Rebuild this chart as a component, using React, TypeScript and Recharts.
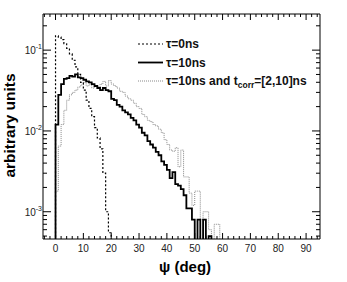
import React from 'react';
import { LineChart, Line, XAxis, YAxis, Legend } from 'recharts';

// Histogram bin contents, 1-degree bins starting at 0 deg
const tau0Values = [
  0.15, 0.145, 0.135, 0.12, 0.105, 0.09, 0.075, 0.062, 0.05, 0.04,
  0.032, 0.024, 0.019, 0.015, 0.011, 0.0082, 0.006, 0.003, 0.001, 0.00055,
];
const tau10Values = [
  0.012, 0.028, 0.038, 0.044, 0.045, 0.048, 0.047, 0.05, 0.046, 0.045,
  0.043, 0.041, 0.04, 0.038, 0.036, 0.034, 0.032, 0.034, 0.032, 0.031,
  0.025, 0.024, 0.021, 0.02, 0.018, 0.017, 0.016, 0.0145, 0.0135, 0.012,
  0.011, 0.0095, 0.0088, 0.0075, 0.0068, 0.0062, 0.0055, 0.005, 0.0042, 0.0038,
  0.0033, 0.0026, 0.0031, 0.0022, 0.0021, 0.0019, 0.0016, 0.0011, 0.0011, 0.0008,
  0, 0.0008, 0, 0.0008, 0, 0.0005,
];
const tau10CorrValues = [
  0.0018, 0.0065, 0.012, 0.018, 0.024, 0.028, 0.03, 0.032, 0.035, 0.037,
  0.04, 0.036, 0.038, 0.034, 0.036, 0.035, 0.038, 0.041, 0.036, 0.042,
  0.038, 0.036, 0.034, 0.031, 0.03, 0.027, 0.025, 0.024, 0.022, 0.02,
  0.019, 0.016, 0.015, 0.0135, 0.013, 0.012, 0.0115, 0.0105, 0.0095, 0.0078,
  0.0068, 0.0058, 0.0056, 0.0062, 0.0036, 0.0058, 0.0027, 0.0027, 0.0017, 0.0012,
  0.0018, 0.0018, 0.0008, 0.001, 0.001, 0.0006, 0, 0.0007, 0.0007,
];

const xMajorTicks = [0, 10, 20, 30, 40, 50, 60, 70, 80, 90];
const xAllTicks = [-4, -2, 0, 2, 4, 6, 8, 10, 12, 14, 16, 18, 20, 22, 24, 26, 28, 30, 32, 34, 36, 38, 40, 42, 44, 46, 48, 50, 52, 54, 56, 58, 60, 62, 64, 66, 68, 70, 72, 74, 76, 78, 80, 82, 84, 86, 88, 90, 92, 94];
const yMajorTicks = [0.001, 0.01, 0.1];
const yMajorLabels = ['-3', '-2', '-1'];
const yAllTicks = [
  0.0005, 0.0006, 0.0007, 0.0008, 0.0009, 0.001,
  0.002, 0.003, 0.004, 0.005, 0.006, 0.007, 0.008, 0.009, 0.01,
  0.02, 0.03, 0.04, 0.05, 0.06, 0.07, 0.08, 0.09, 0.1, 0.2,
];

const FLOOR = 1e-5;
const xDomain = [-4.5, 95];
const yDomain = [4.6e-4, 0.28];

function toSteps(values: number[]) {
  const pts: { x: number; y: number }[] = [{ x: 0, y: FLOOR }];
  values.forEach((v, i) => pts.push({ x: i, y: v > 0 ? v : FLOOR }));
  pts.push({ x: values.length, y: FLOOR });
  return pts;
}

const FONT = '"Liberation Sans", Arial, Helvetica, sans-serif';
const isMajorY = (v: number) => yMajorTicks.some((m) => Math.abs(m - v) / m < 1e-6);

const LeftTick = (props: any) => {
  const { x, y, payload } = props;
  const v = payload.value;
  const major = isMajorY(v);
  const idx = yMajorTicks.findIndex((m) => Math.abs(m - v) / m < 1e-6);
  return (
    <g>
      <line x1={x} x2={x + (major ? 8 : 4)} y1={y} y2={y} stroke="#000" strokeWidth={1} />
      {major && (
        <text x={x - 1} y={y + 4} textAnchor="end" fontFamily={FONT} fontSize={10} fill="#222">
          <tspan>10</tspan>
          <tspan dy={-5} fontSize={7}>{yMajorLabels[idx]}</tspan>
        </text>
      )}
    </g>
  );
};

const RightTick = (props: any) => {
  const { x, y, payload } = props;
  const major = isMajorY(payload.value);
  return <line x1={x} x2={x - (major ? 8 : 4)} y1={y} y2={y} stroke="#000" strokeWidth={1} />;
};

const BottomTick = (props: any) => {
  const { x, y, payload } = props;
  const major = xMajorTicks.includes(payload.value);
  return (
    <g>
      <line x1={x} x2={x} y1={y} y2={y - (major ? 6 : 3)} stroke="#000" strokeWidth={1} />
      {major && (
        <text x={x} y={y + 13} textAnchor="middle" fontFamily={FONT} fontSize={10} fill="#222">
          {payload.value}
        </text>
      )}
    </g>
  );
};

const TopTick = (props: any) => {
  const { x, y, payload } = props;
  const major = xMajorTicks.includes(payload.value);
  return <line x1={x} x2={x} y1={y} y2={y + (major ? 6 : 3)} stroke="#000" strokeWidth={1} />;
};

const legendItems = [
  { label: 'τ=0ns', dash: '2 2', color: '#000', width: 1.2, sub: false },
  { label: 'τ=10ns', dash: undefined, color: '#000', width: 1.8, sub: false },
  { label: 'τ=10ns and t', dash: '1 1', color: '#888', width: 1, sub: true },
];

const LegendContent = () => (
  <svg width={347} height={282} style={{ display: 'block' }}>
    {legendItems.map((it, i) => {
      const cy = 44 + i * 18.5;
      return (
        <g key={i}>
          <line x1={138} x2={163} y1={cy} y2={cy} stroke={it.color} strokeWidth={it.width} strokeDasharray={it.dash} />
          <text x={166} y={cy + 4} fontFamily={FONT} fontSize={12} fontWeight="bold" fill="#111">
            <tspan>{it.label}</tspan>
            {it.sub && (
              <>
                <tspan dy={3} fontSize={8.5}>corr</tspan>
                <tspan dy={-3}>=[2,10]ns</tspan>
              </>
            )}
          </text>
        </g>
      );
    })}
  </svg>
);

export default function App() {
  return (
    <div style={{ position: 'absolute', left: 0, top: 0, background: '#fff' }}>
      <LineChart width={347} height={282} margin={{ top: 4, right: 17, bottom: 13, left: 3 }}>
        <XAxis
          xAxisId="b"
          type="number"
          dataKey="x"
          domain={xDomain}
          allowDataOverflow
          ticks={xAllTicks}
          interval={0}
          tick={<BottomTick />}
          tickLine={false}
          tickSize={0}
          tickMargin={0}
          axisLine={{ stroke: '#000', strokeWidth: 1 }}
          height={30}
          label={(p: any) => {
            const vb = p.viewBox;
            return (
              <text x={185} y={vb.y + 33} textAnchor="middle" fontFamily={FONT} fontSize={15} fontWeight="bold" fill="#000">
                ψ (deg)
              </text>
            );
          }}
        />
        <XAxis
          xAxisId="t"
          orientation="top"
          type="number"
          dataKey="x"
          domain={xDomain}
          allowDataOverflow
          ticks={xAllTicks}
          interval={0}
          tick={<TopTick />}
          tickLine={false}
          tickSize={0}
          tickMargin={0}
          axisLine={{ stroke: '#000', strokeWidth: 1 }}
          height={10}
        />
        <YAxis
          yAxisId="l"
          type="number"
          scale="log"
          domain={yDomain}
          allowDataOverflow
          ticks={yAllTicks}
          interval={0}
          tick={<LeftTick />}
          tickLine={false}
          tickSize={0}
          tickMargin={0}
          axisLine={{ stroke: '#000', strokeWidth: 1 }}
          width={40}
          label={(p: any) => {
            const vb = p.viewBox;
            const cx = vb.x + 12;
            const cy = vb.y + vb.height / 2 - 1;
            return (
              <text x={cx} y={cy} transform={`rotate(-90 ${cx} ${cy})`} textAnchor="middle" fontFamily={FONT} fontSize={15.5} fontWeight="bold" fill="#000">
                arbitrary units
              </text>
            );
          }}
        />
        <YAxis
          yAxisId="r"
          orientation="right"
          type="number"
          scale="log"
          domain={yDomain}
          allowDataOverflow
          ticks={yAllTicks}
          interval={0}
          tick={<RightTick />}
          tickLine={false}
          tickSize={0}
          tickMargin={0}
          axisLine={{ stroke: '#000', strokeWidth: 1 }}
          width={10}
        />
        <Line
          xAxisId="b"
          yAxisId="l"
          data={toSteps(tau10CorrValues)}
          dataKey="y"
          type="stepAfter"
          stroke="#888"
          strokeWidth={1}
          strokeDasharray="1 1"
          dot={false}
          activeDot={false}
          isAnimationActive={false}
        />
        <Line
          xAxisId="b"
          yAxisId="l"
          data={toSteps(tau0Values)}
          dataKey="y"
          type="stepAfter"
          stroke="#000"
          strokeWidth={1.2}
          strokeDasharray="2 2"
          dot={false}
          activeDot={false}
          isAnimationActive={false}
        />
        <Line
          xAxisId="b"
          yAxisId="l"
          data={toSteps(tau10Values)}
          dataKey="y"
          type="stepAfter"
          stroke="#000"
          strokeWidth={1.8}
          dot={false}
          activeDot={false}
          isAnimationActive={false}
        />
        <Legend
          layout="vertical"
          align="center"
          verticalAlign="middle"
          content={<LegendContent />}
          wrapperStyle={{ position: 'absolute', left: 0, top: 0, width: 347, height: 282, pointerEvents: 'none' }}
        />
      </LineChart>
    </div>
  );
}
